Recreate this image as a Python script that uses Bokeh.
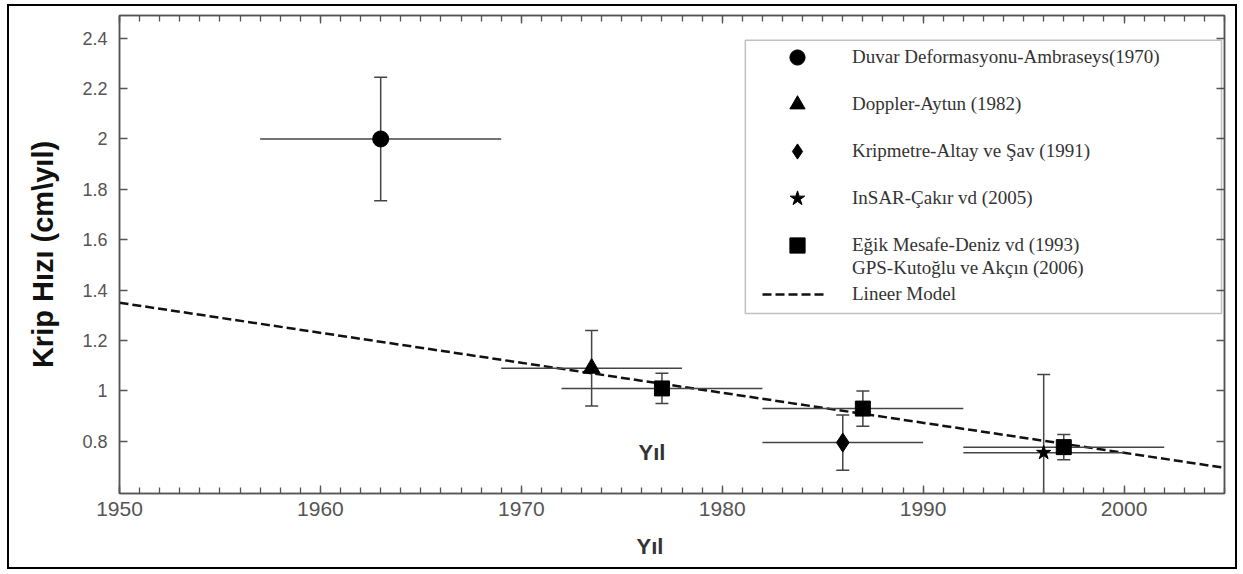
import numpy as np
from bokeh.plotting import figure
from bokeh.models import (Range1d, LinearAxis, SingleIntervalTicker, FixedTicker,
                          CustomJSTickFormatter, Legend, LegendItem, Label, BoxAnnotation,
                          Title)
from bokeh.embed import file_html
from bokeh.resources import INLINE

# ---------------- data ----------------
circle_x = [1963.0]
circle_y = [2.00]
circle_xerr = [6.0]
circle_yerr = [0.245]

triangle_x = [1973.5]
triangle_y = [1.09]
triangle_xerr = [4.5]
triangle_yerr = [0.15]

diamond_x = [1986.0]
diamond_y = [0.795]
diamond_xerr = [4.0]
diamond_yerr = [0.11]

star_x = [1996.0]
star_y = [0.755]
star_xerr = [4.0]
star_yerr = [0.31]

square_x = [1977.0, 1987.0, 1997.0]
square_y = [1.01, 0.93, 0.777]
square_xerr = [5.0, 5.0, 5.0]
square_yerr = [0.06, 0.07, 0.05]

model_x = [1950.0, 2005.0]
model_y = [1.35, 0.695]

y_ticks = [0.8, 1.0, 1.2, 1.4, 1.6, 1.8, 2.0, 2.2, 2.4]

legend_labels = [
    "Duvar Deformasyonu-Ambraseys(1970)",
    "Doppler-Aytun (1982)",
    "Kripmetre-Altay ve Şav (1991)",
    "InSAR-Çakır vd (2005)",
    "Eğik Mesafe-Deniz vd (1993)",
    "GPS-Kutoğlu ve Akçın (2006)",
    "Lineer Model",
]

x_title = "Yıl"
y_title = "Krip Hızı (cm\\yıl)"

# ---------------- figure ----------------
AX = "#555555"
ERR = "#444444"

p = figure(width=1230, height=565,
           x_range=Range1d(1950, 2005), y_range=Range1d(0.593, 2.49),
           output_backend="svg", toolbar_location=None,
           min_border_left=110, min_border_right=15,
           min_border_top=9, min_border_bottom=78)
p.styles = {"margin-left": "7px", "margin-top": "4px",
            "border": "2px solid #000000"}
p.xgrid.visible = False
p.ygrid.visible = False
p.outline_line_color = AX
p.outline_line_width = 1.5
p.background_fill_color = "white"
p.border_fill_color = "white"


def style_x(ax, labels=True):
    ax.ticker = SingleIntervalTicker(interval=10, num_minor_ticks=10)
    ax.major_tick_in = 8
    ax.major_tick_out = 0
    ax.minor_tick_in = 6
    ax.minor_tick_out = 0
    ax.axis_line_color = AX
    ax.axis_line_width = 1.5
    ax.major_tick_line_color = AX
    ax.major_tick_line_width = 1.3
    ax.minor_tick_line_color = AX
    ax.minor_tick_line_width = 1.3
    if labels:
        ax.major_label_text_font = "Liberation Sans"
        ax.major_label_text_font_size = "21px"
        ax.major_label_text_color = AX
        ax.major_label_standoff = 8
    else:
        ax.formatter = CustomJSTickFormatter(code="return ''")
        ax.major_label_text_font_size = "0px"
        ax.major_label_standoff = 0


def style_y(ax, labels=True):
    ax.ticker = FixedTicker(ticks=y_ticks, minor_ticks=[])
    ax.major_tick_in = 8
    ax.major_tick_out = 0
    ax.minor_tick_line_color = None
    ax.axis_line_color = AX
    ax.axis_line_width = 1.5
    ax.major_tick_line_color = AX
    ax.major_tick_line_width = 1.3
    if labels:
        ax.formatter = CustomJSTickFormatter(
            code="return tick.toFixed(1).replace(/\\.0$/, '')")
        ax.major_label_text_font = "Liberation Sans"
        ax.major_label_text_font_size = "18px"
        ax.major_label_text_color = AX
        ax.major_label_standoff = 12
    else:
        ax.formatter = CustomJSTickFormatter(code="return ''")
        ax.major_label_text_font_size = "0px"
        ax.major_label_standoff = 0


style_x(p.xaxis[0])
style_y(p.yaxis[0])
top_ax = LinearAxis()
style_x(top_ax, labels=False)
p.add_layout(top_ax, "above")
right_ax = LinearAxis()
style_y(right_ax, labels=False)
p.add_layout(right_ax, "right")

p.yaxis[0].axis_label = y_title
p.yaxis[0].axis_label_text_font = "Liberation Sans"
p.yaxis[0].axis_label_text_font_style = "bold"
p.yaxis[0].axis_label_text_font_size = "29px"
p.yaxis[0].axis_label_text_color = "#111111"
p.yaxis[0].axis_label_standoff = 20

# x-axis title (placed left of centre as in the reference)
p.add_layout(Title(text=x_title, align="left", offset=517, standoff=26,
                   text_font="Liberation Sans", text_font_style="bold",
                   text_font_size="22px", text_color="#333333"), "below")

# ---------------- linear model ----------------
r_model = p.line(model_x, model_y, line_color="#111111", line_width=2.5, line_dash="9 4")
r_dummy = p.line(model_x, model_y, line_alpha=0)


# ---------------- error bars ----------------
def errbars(xs, ys, xe, ye):
    xs = np.asarray(xs, float)
    ys = np.asarray(ys, float)
    xe = np.asarray(xe, float)
    ye = np.asarray(ye, float)
    p.segment(xs - xe, ys, xs + xe, ys, line_color=ERR, line_width=1.5)
    p.segment(xs, ys - ye, xs, ys + ye, line_color=ERR, line_width=1.5)
    p.scatter(np.concatenate([xs, xs]), np.concatenate([ys - ye, ys + ye]),
              marker="dash", size=13, line_color=ERR, line_width=1.5)


errbars(circle_x, circle_y, circle_xerr, circle_yerr)
errbars(triangle_x, triangle_y, triangle_xerr, triangle_yerr)
errbars(diamond_x, diamond_y, diamond_xerr, diamond_yerr)
errbars(star_x, star_y, star_xerr, star_yerr)
errbars(square_x, square_y, square_xerr, square_yerr)

# ---------------- markers ----------------
r_circle = p.scatter(circle_x, circle_y, marker="circle", size=16, color="black")
r_tri = p.scatter(triangle_x, triangle_y, marker="triangle", size=17, color="black")
r_dia = p.scatter(diamond_x, diamond_y, marker="diamond", size=19, color="black")
r_star = p.scatter(star_x, star_y, marker="star", size=15, color="black")
r_sq = p.scatter(square_x, square_y, marker="square", size=15, color="black")

# ---------------- legend ----------------
box = BoxAnnotation(left=1981.15, right=2004.85, top=2.392, bottom=1.307,
                    fill_alpha=0, line_color="#333333", line_width=1.5)
p.add_layout(box)

leg_font = dict(label_text_font="Liberation Serif", label_text_font_size="19px",
                label_text_color="#333333", border_line_alpha=0,
                background_fill_alpha=0, padding=0, margin=0)

legA = Legend(items=[
    LegendItem(label=legend_labels[0], renderers=[r_circle]),
    LegendItem(label=legend_labels[1], renderers=[r_tri]),
    LegendItem(label=legend_labels[2], renderers=[r_dia]),
    LegendItem(label=legend_labels[3], renderers=[r_star]),
    LegendItem(label=legend_labels[4], renderers=[r_sq]),
], location=(658, 229), glyph_width=40, glyph_height=38, label_height=38,
    spacing=9, label_standoff=35, **leg_font)
legB = Legend(items=[
    LegendItem(label=legend_labels[5], renderers=[r_dummy]),
    LegendItem(label=legend_labels[6], renderers=[r_model]),
], location=(643, 188), glyph_width=63, glyph_height=22, label_height=22,
    spacing=4, label_standoff=27, **leg_font)
p.add_layout(legA)
p.add_layout(legB)

# ---------------- texts ----------------
p.add_layout(Label(x=1976.5, y=0.755, text=x_title, text_align="center",
                   text_baseline="middle", text_font="Liberation Sans",
                   text_font_style="bold", text_font_size="22px",
                   text_color="#333333"))

open("out.html", "w").write(file_html(p, INLINE))
